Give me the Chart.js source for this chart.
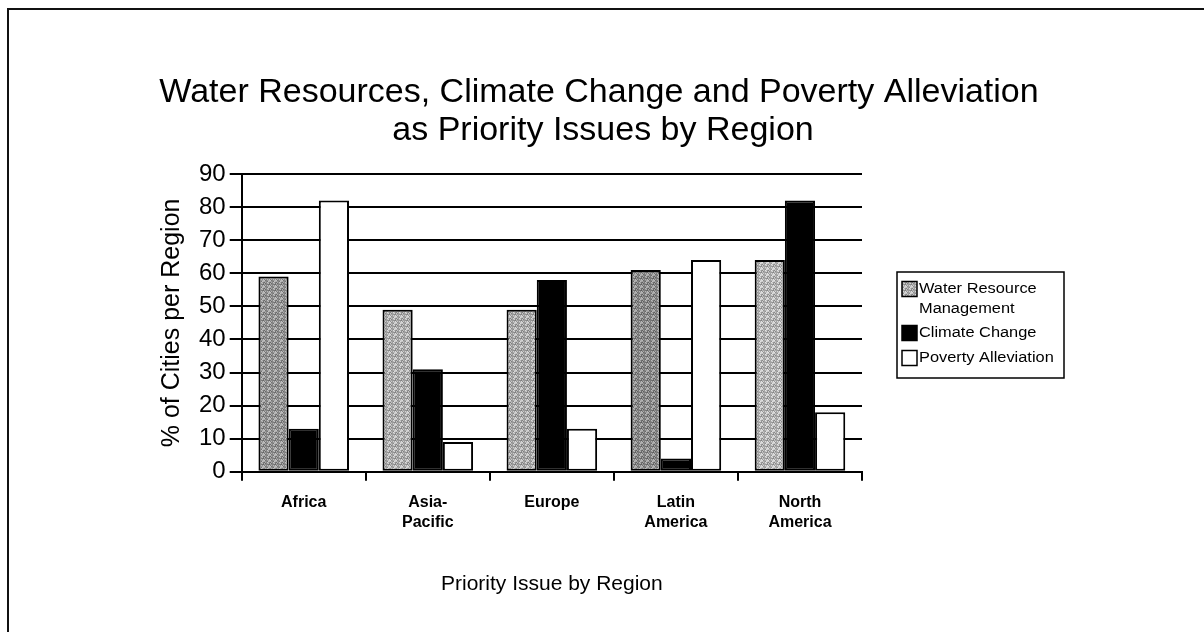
<!DOCTYPE html>
<html>
<head>
<meta charset="utf-8">
<script src="https://cdn.jsdelivr.net/npm/chart.js@4.4.0/dist/chart.umd.min.js"></script>
<style>
html,body{margin:0;padding:0;background:#fff;}
#wrap{width:1204px;height:632px;position:relative;}
</style>
</head>
<body>
<div id="wrap"><canvas id="c" width="1204" height="632"></canvas></div>
<script>
// ---- data ----
const categories = [['Africa'], ['Asia-', 'Pacific'], ['Europe'], ['Latin', 'America'], ['North', 'America']];
const waterResource = [59, 49, 49, 61, 64];
const climateChange = [13, 31, 58, 4, 82];
const povertyAlleviation = [82, 9, 13, 64, 18];
const yTickValues = [0, 10, 20, 30, 40, 50, 60, 70, 80, 90];
const seriesNames = ['Water Resource Management', 'Climate Change', 'Poverty Alleviation'];
const legendLines = [['Water Resource', 'Management'], ['Climate Change'], ['Poverty Alleviation']];
const chartTitle = ['Water Resources, Climate Change and Poverty Alleviation', 'as Priority Issues by Region'];
const xTitle = 'Priority Issue by Region';
const yTitle = '% of Cities per Region';

// ---- styles ----
const FONT = "'Liberation Sans', Arial, Helvetica, sans-serif";
const waterTones = [150, 175, 172, 140, 182];

function stipple(base) {
  const c = document.createElement('canvas');
  c.width = 6; c.height = 6;
  const g = c.getContext('2d');
  const img = g.createImageData(6, 6);
  for (let y = 0; y < 6; y++) {
    for (let x = 0; x < 6; x++) {
      const h = ((x * 73 + y * 151 + x * y * 29) % 11) - 5;
      const v = Math.max(0, Math.min(255, base + h * 9));
      const i = (y * 6 + x) * 4;
      img.data[i] = v; img.data[i + 1] = v; img.data[i + 2] = v; img.data[i + 3] = 255;
    }
  }
  g.putImageData(img, 0, 0);
  return g.createPattern(c, 'repeat');
}
const waterFills = waterTones.map(stipple);
const legendWaterFill = stipple(175);

function stretchedText(ctx, text, x, y, sx) {
  ctx.save();
  ctx.translate(x, y);
  ctx.scale(sx, 1);
  ctx.fillText(text, 0, 0);
  ctx.restore();
}

const decor = {
  id: 'decor',
  beforeDraw(chart) {
    const ctx = chart.ctx;
    ctx.save();
    ctx.fillStyle = '#fff';
    ctx.fillRect(0, 0, chart.width, chart.height);
    ctx.strokeStyle = '#111';
    ctx.lineWidth = 2;
    ctx.beginPath();
    ctx.moveTo(8, chart.height);
    ctx.lineTo(8, 9);
    ctx.lineTo(chart.width, 9);
    ctx.stroke();
    ctx.restore();
  },
  afterDraw(chart) {
    const ctx = chart.ctx;
    ctx.save();
    // title
    ctx.fillStyle = '#000';
    ctx.font = '34px ' + FONT;
    ctx.textAlign = 'center';
    ctx.textBaseline = 'middle';
    ctx.fillText(chartTitle[0], 599, 93);
    ctx.fillText(chartTitle[1], 603, 131);
    // legend
    const bx = 897, by = 272, bw = 167, bh = 106;
    ctx.lineWidth = 1.5;
    ctx.strokeStyle = '#000';
    ctx.strokeRect(bx, by, bw, bh);
    ctx.font = '14px ' + FONT;
    ctx.textAlign = 'left';
    const ds = chart.data.datasets;
    const rows = [289, 333, 358];
    const fills = [legendWaterFill, ds[1].backgroundColor, ds[2].backgroundColor];
    for (let k = 0; k < 3; k++) {
      const sy = rows[k] - 7.5;
      ctx.fillStyle = fills[k];
      ctx.fillRect(902, sy, 15, 15);
      ctx.lineWidth = 1.5;
      ctx.strokeRect(902, sy, 15, 15);
      ctx.fillStyle = '#000';
      legendLines[k].forEach((t, j) => stretchedText(ctx, t, 919, rows[k] + j * 20, 1.17));
    }
    ctx.restore();
  }
};

new Chart(document.getElementById('c'), {
  type: 'bar',
  data: {
    labels: categories,
    datasets: [
      { label: seriesNames[0], data: waterResource, backgroundColor: waterFills, borderColor: '#000', borderWidth: 2, borderSkipped: false },
      { label: seriesNames[1], data: climateChange, backgroundColor: '#000', borderColor: '#000', borderWidth: 2, borderSkipped: false },
      { label: seriesNames[2], data: povertyAlleviation, backgroundColor: '#fff', borderColor: '#000', borderWidth: 2, borderSkipped: false }
    ]
  },
  options: {
    responsive: false,
    animation: false,
    events: [],
    categoryPercentage: 0.73,
    barPercentage: 1.0,
    layout: { padding: { left: 150, right: 342, top: 174, bottom: 35 } },
    plugins: { legend: { display: false }, title: { display: false }, tooltip: { enabled: false } },
    scales: {
      x: {
        grid: { display: true, drawOnChartArea: false, color: '#000', lineWidth: 2, tickLength: 9, tickWidth: 2, tickColor: '#000' },
        border: { display: true, color: '#000', width: 2 },
        ticks: { color: '#000', font: { family: FONT, size: 16, weight: 'bold', lineHeight: 1.25 }, padding: 12, maxRotation: 0, autoSkip: false },
        title: { display: true, text: xTitle, color: '#000', font: { family: FONT, size: 21 }, padding: { top: 27, bottom: 0 } }
      },
      y: {
        min: 0, max: 90,
        afterBuildTicks(axis) { axis.ticks = yTickValues.map(v => ({ value: v })); },
        grid: { color: '#000', lineWidth: 2, tickLength: 12 },
        border: { display: true, color: '#000', width: 2 },
        ticks: { color: '#000', font: { family: FONT, size: 24 }, padding: 4 },
        title: { display: true, text: yTitle, color: '#000', font: { family: FONT, size: 25 }, padding: { top: 7, bottom: 8 } }
      }
    }
  },
  plugins: [decor]
});
</script>
</body>
</html>
